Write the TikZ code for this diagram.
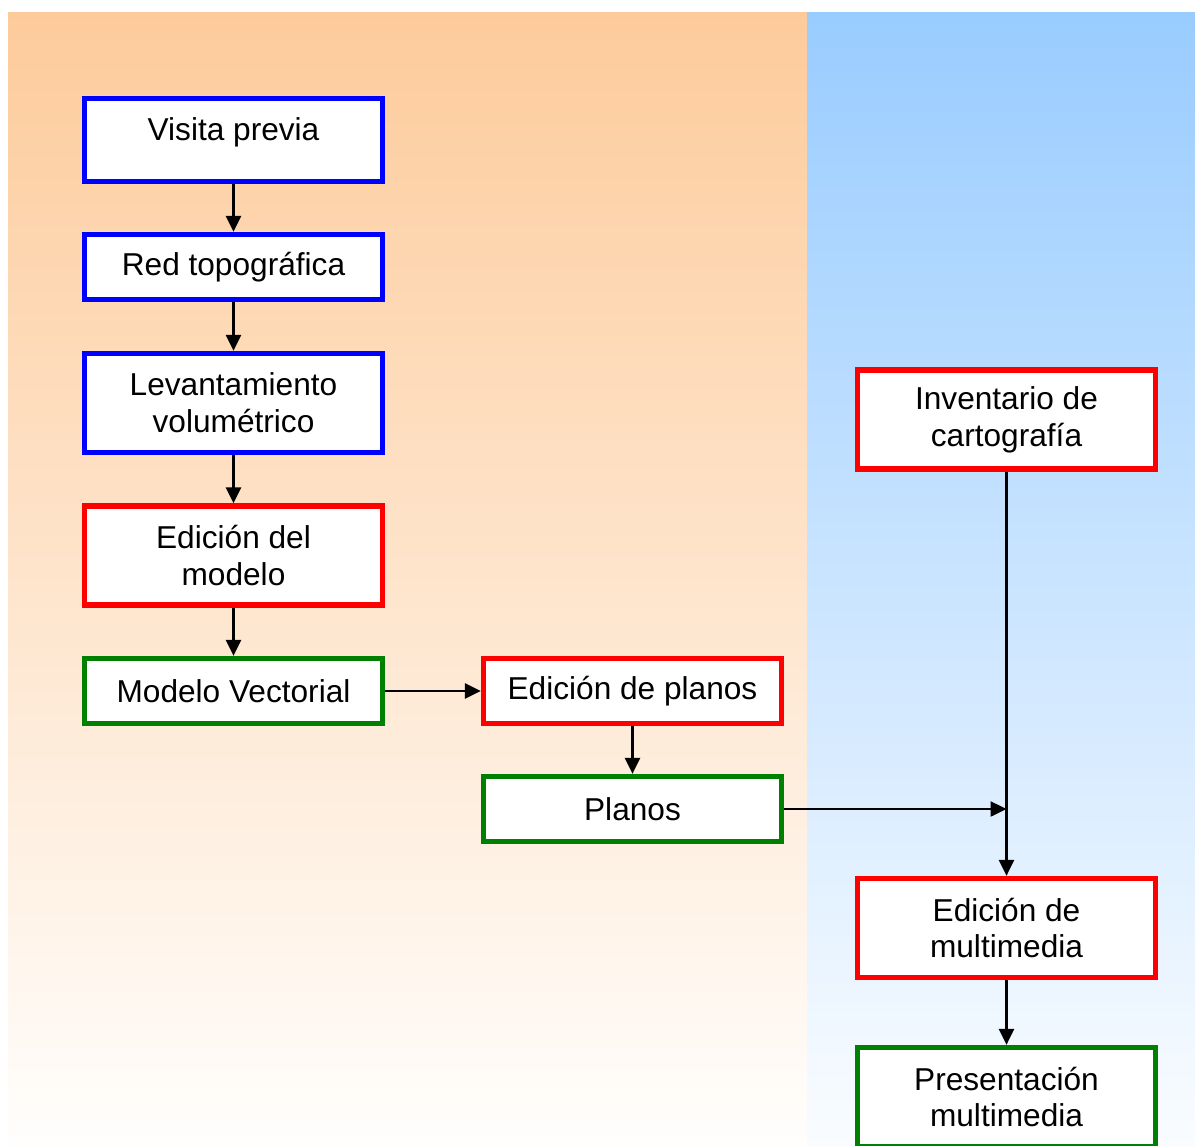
\documentclass[tikz,border=0pt]{standalone}
\usepackage{fontspec}
\setmainfont{Liberation Sans}
\usepackage{xcolor}
\usepackage{tikz}
\usetikzlibrary{positioning,calc,arrows.meta}

\definecolor{fondonaranja}{RGB}{253,203,155}
\definecolor{fondoazul}{RGB}{153,204,255}
\definecolor{bordeazul}{RGB}{0,0,255}
\definecolor{borderojo}{RGB}{255,0,0}
\definecolor{bordeverde}{RGB}{0,128,0}

\tikzset{
    caja/.style={draw, fill=white, line width=3pt, minimum width=5.96cm, align=center,
        font=\fontsize{18}{21}\selectfont, inner sep=0pt},
    bajo/.style={caja, minimum height=1.3cm},
    alto/.style={caja, minimum height=1.98cm},
    flecha/.style={line width=1.4pt, -{Triangle[length=0.32cm,width=0.3cm]}}
}

\begin{document}
\begin{tikzpicture}
        \useasboundingbox (0,0) rectangle (23.9,-22.92);
        \begin{scope}
        \clip (0,0) rectangle (23.9,-22.92);
        \shade[top color=fondonaranja, bottom color=white!98!fondonaranja] (0.16,-0.26) rectangle (16.14,-22.92);
        \shade[top color=fondoazul, bottom color=white!95!fondoazul] (16.14,-0.26) rectangle (23.9,-22.92);

        \node[caja, draw=bordeazul, minimum height=1.66cm, text depth=12pt] (visita) at (4.67,-2.8) {Visita previa};
        \node[bajo, draw=bordeazul] (red) at (4.67,-5.34) {Red topográfica};
        \node[alto, draw=bordeazul] (levant) at (4.67,-8.06) {Levantamiento\\volumétrico};
        \node[alto, draw=borderojo] (edmodelo) at (4.67,-11.11) {Edición del\\modelo};
        \node[bajo, draw=bordeverde] (modvect) at (4.67,-13.82) {Modelo Vectorial};
        \node[bajo, draw=borderojo] (edplanos) at (12.65,-13.82) {Edición de planos};
        \node[bajo, draw=bordeverde] (planos) at (12.65,-16.18) {Planos};
        \node[alto, draw=borderojo] (invent) at (20.13,-8.39) {Inventario de\\cartografía};
        \node[alto, draw=borderojo] (edmulti) at (20.13,-18.56) {Edición de\\multimedia};
        \node[alto, draw=bordeverde] (present) at (20.13,-21.94) {Presentación\\multimedia};
        \coordinate (union) at (20.13,-16.18);

        \draw[flecha] (visita) -- (red);
        \draw[flecha] (red) -- (levant);
        \draw[flecha] (levant) -- (edmodelo);
        \draw[flecha] (edmodelo) -- (modvect);
        \draw[flecha] (modvect) -- (edplanos);
        \draw[flecha] (edplanos) -- (planos);
        \draw[flecha] (planos) -- (union);
        \draw[flecha] (invent) -- (edmulti);
        \draw[flecha] (edmulti) -- (present);
        \end{scope}
    \end{tikzpicture}
\end{document}
